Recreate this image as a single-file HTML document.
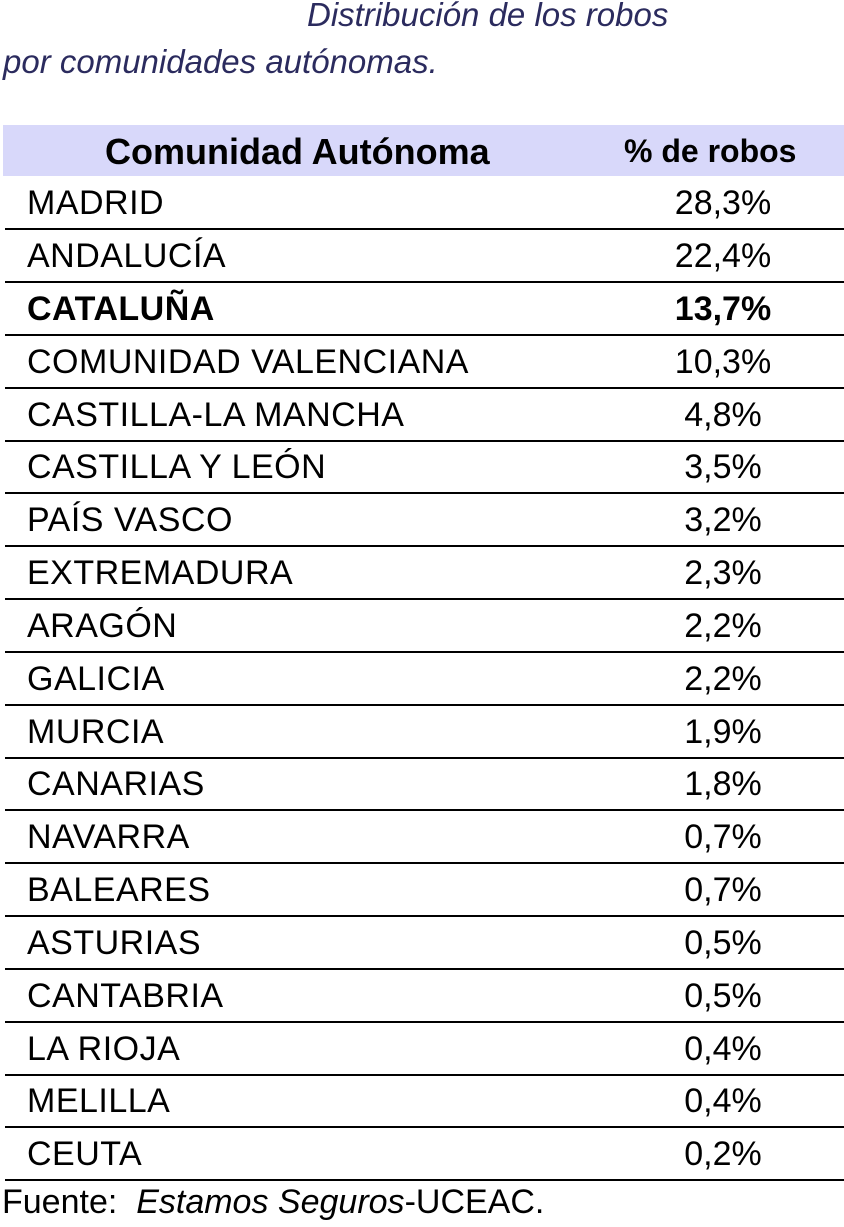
<!DOCTYPE html>
<html><head><meta charset="utf-8"><style>
body{margin:0;width:844px;height:1227px;background:#fff;position:relative;overflow:hidden;font-family:"Liberation Sans",sans-serif;color:#000}
.t{position:absolute;font-style:italic;color:#2b2b5e;font-size:33px;white-space:nowrap;line-height:36px}
.hdr{position:absolute;left:3px;top:125px;width:841px;height:51px;background:#d8d8fa}
.h{position:absolute;top:125px;height:51px;line-height:53px;font-weight:bold;font-size:33px;white-space:nowrap}
.r{position:absolute;left:5px;width:839px;height:53px;border-bottom:2px solid #000;box-sizing:border-box;font-size:34px}
.r span{position:absolute;line-height:53px;white-space:nowrap}
.r .n{left:22px;letter-spacing:0.5px}
.r .v{left:618px;width:200px;text-align:center}
.b{font-weight:bold}
</style></head><body>
<div class="t" style="left:307px;top:-3px">Distribución de los robos</div>
<div class="t" style="left:3px;top:44px">por comunidades autónomas.</div>
<div class="hdr"></div>
<div class="h" style="left:105px;font-size:36px">Comunidad Autónoma</div>
<div class="h" style="left:624px;font-size:32px">% de robos</div>
<div class="r" style="top:177px"><span class="n">MADRID</span><span class="v">28,3%</span></div>
<div class="r" style="top:230px"><span class="n">ANDALUCÍA</span><span class="v">22,4%</span></div>
<div class="r b" style="top:283px"><span class="n">CATALUÑA</span><span class="v">13,7%</span></div>
<div class="r" style="top:336px"><span class="n">COMUNIDAD VALENCIANA</span><span class="v">10,3%</span></div>
<div class="r" style="top:389px"><span class="n">CASTILLA-LA MANCHA</span><span class="v">4,8%</span></div>
<div class="r" style="top:441px"><span class="n">CASTILLA Y LEÓN</span><span class="v">3,5%</span></div>
<div class="r" style="top:494px"><span class="n">PAÍS VASCO</span><span class="v">3,2%</span></div>
<div class="r" style="top:547px"><span class="n">EXTREMADURA</span><span class="v">2,3%</span></div>
<div class="r" style="top:600px"><span class="n">ARAGÓN</span><span class="v">2,2%</span></div>
<div class="r" style="top:653px"><span class="n">GALICIA</span><span class="v">2,2%</span></div>
<div class="r" style="top:706px"><span class="n">MURCIA</span><span class="v">1,9%</span></div>
<div class="r" style="top:758px"><span class="n">CANARIAS</span><span class="v">1,8%</span></div>
<div class="r" style="top:811px"><span class="n">NAVARRA</span><span class="v">0,7%</span></div>
<div class="r" style="top:864px"><span class="n">BALEARES</span><span class="v">0,7%</span></div>
<div class="r" style="top:917px"><span class="n">ASTURIAS</span><span class="v">0,5%</span></div>
<div class="r" style="top:970px"><span class="n">CANTABRIA</span><span class="v">0,5%</span></div>
<div class="r" style="top:1023px"><span class="n">LA RIOJA</span><span class="v">0,4%</span></div>
<div class="r" style="top:1075px"><span class="n">MELILLA</span><span class="v">0,4%</span></div>
<div class="r" style="top:1128px"><span class="n">CEUTA</span><span class="v">0,2%</span></div>
<div style="position:absolute;left:2px;top:1182px;font-size:34px;line-height:40px;white-space:nowrap">Fuente:&nbsp; <i>Estamos Seguros</i>-UCEAC.</div>
</body></html>
